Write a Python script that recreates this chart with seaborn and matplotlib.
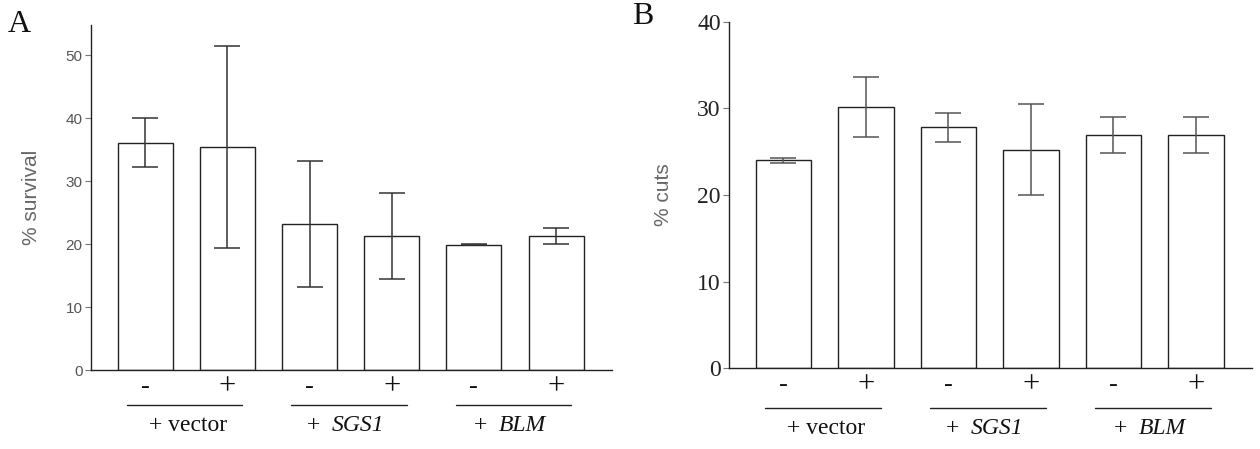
import matplotlib
matplotlib.use("Agg")
import matplotlib.pyplot as plt
import matplotlib.transforms as mtransforms
import seaborn as sns
import pandas as pd

# ---- data ----
conditions = ["vector -", "vector +", "SGS1 -", "SGS1 +", "BLM -", "BLM +"]
signs = ["-", "+", "-", "+", "-", "+"]
survival_mean = [36.1, 35.4, 23.2, 21.3, 19.9, 21.3]
survival_sd = [3.9, 16.0, 10.0, 6.8, 0.05, 1.25]
cuts_mean = [24.0, 30.2, 27.8, 25.2, 26.9, 26.9]
cuts_sd = [0.3, 3.45, 1.7, 5.25, 2.1, 2.1]
groups = ["vector", "SGS1", "BLM"]
group_italic = [False, True, True]

sns.set_theme(style="ticks")
plt.rcParams["font.family"] = ["Liberation Serif", "DejaVu Serif"]

fig = plt.figure(figsize=(12.6, 4.49), dpi=100)
axA = fig.add_axes([0.0722, 0.1759, 0.4135, 0.7684])
axB = fig.add_axes([0.5786, 0.1797, 0.4151, 0.772])

pending = []


def draw(ax, means, sds, ylim, yticks, ylabel, tick_font, tick_color, tick_size,
         ecol, line_y, label_y, ylabelpad):
    df = pd.DataFrame({"cond": conditions, "val": means})
    sns.barplot(data=df, x="cond", y="val", order=conditions, color="white",
                edgecolor="#222222", linewidth=1.0, width=0.67, errorbar=None,
                ax=ax, saturation=1)
    ax.errorbar(x=list(range(len(means))), y=means, yerr=sds, fmt="none",
                ecolor=ecol, elinewidth=1.1, capsize=9.5, capthick=1.1, zorder=5)
    ax.set_xlim(-0.66, 5.68)
    ax.set_ylim(*ylim)
    ax.set_yticks(yticks)
    ax.set_yticklabels([str(t) for t in yticks], fontfamily=tick_font,
                       color=tick_color, fontsize=tick_size)
    ax.set_xticks(range(6))
    ax.set_xticklabels(signs, color="#111111", fontfamily="Liberation Serif")
    for lab, s in zip(ax.get_xticklabels(), signs):
        lab.set_fontsize(22 if s == "+" else 19)
        lab.set_verticalalignment("center")
    ax.tick_params(axis="x", length=0, pad=12)
    ax.tick_params(axis="y", length=4, width=0.8, color="#777777", pad=2)
    ax.set_xlabel("")
    ax.set_ylabel(ylabel, fontfamily="Liberation Sans", fontsize=15,
                  color="#666666", labelpad=ylabelpad)
    for side in ["top", "right"]:
        ax.spines[side].set_visible(False)
    for side in ["left", "bottom"]:
        ax.spines[side].set_color("#222222")
        ax.spines[side].set_linewidth(1.0)
    trans = mtransforms.blended_transform_factory(ax.transData, ax.transAxes)
    for gi, g in enumerate(groups):
        x0 = 2 * gi - 0.22
        x1 = 2 * gi + 1 + 0.18
        ax.plot([x0, x1], [line_y, line_y], transform=trans, color="#222222",
                lw=1.0, clip_on=False)
        if group_italic[gi]:
            cx = 2 * gi + 0.44
            t1 = ax.text(cx, label_y, "+  ", transform=trans, ha="left",
                         va="center", fontsize=17, color="#111111")
            t2 = ax.text(cx, label_y, g, transform=trans, ha="left",
                         va="center", fontsize=17, color="#111111",
                         style="italic")
            pending.append((ax, trans, cx, label_y, t1, t2))
        else:
            ax.text(2 * gi + 0.52, label_y, "+ " + g, transform=trans,
                    ha="center", va="center", fontsize=17, color="#111111")


draw(axA, survival_mean, survival_sd, (0, 54.8), [0, 10, 20, 30, 40, 50],
     "% survival", "Liberation Sans", "#555555", 11, "#333333", -0.101, -0.162, 18)
draw(axB, cuts_mean, cuts_sd, (0, 40), [0, 10, 20, 30, 40],
     "% cuts", "Liberation Serif", "#222222", 17, "#555555", -0.1145, -0.174, 17)

fig.text(19 / 1260, 1 - 24 / 449, "A", fontsize=23, ha="center", va="center",
         color="#111111")
fig.text(643 / 1260, 1 - 16 / 449, "B", fontsize=23, ha="center", va="center",
         color="#111111")

# centre the two-part (roman + italic) group labels
fig.canvas.draw()
renderer = fig.canvas.get_renderer()
for ax, trans, cx, ly, t1, t2 in pending:
    w1 = t1.get_window_extent(renderer).width
    w2 = t2.get_window_extent(renderer).width
    px, py = trans.transform((cx, ly))
    start = px - (w1 + w2) / 2
    inv = trans.inverted()
    t1.set_position(inv.transform((start, py)))
    t2.set_position(inv.transform((start + w1, py)))

fig.savefig("out.png", dpi=100)
